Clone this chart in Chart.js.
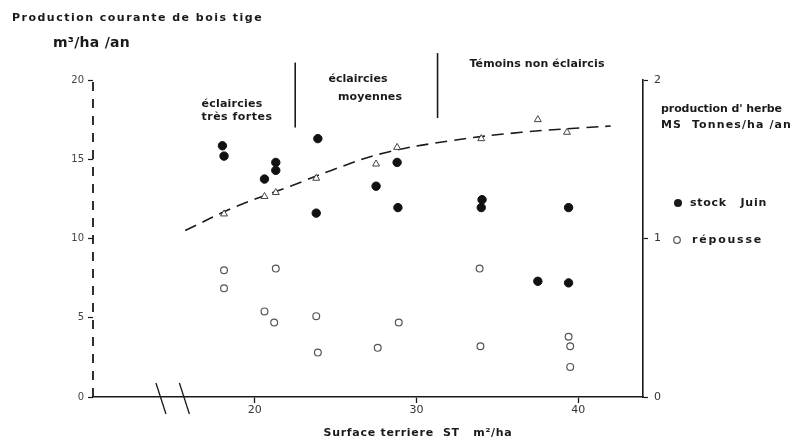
<!DOCTYPE html>
<html><head><meta charset="utf-8">
<script src="https://cdn.jsdelivr.net/npm/chart.js@4/dist/chart.umd.min.js"></script>
<style>html,body{margin:0;padding:0;background:#fff}#wrap{width:793px;height:441px}</style>
</head><body><div id="wrap"><canvas id="c" width="793" height="441"></canvas></div>
<script>
// Production courante de bois tige (m3/ha/an) against surface terrière (m2/ha)
const boisST = [18.1, 20.6, 21.3, 23.8, 27.5, 28.8, 34.0, 37.5, 39.3];
const boisProd = [11.55, 12.65, 12.9, 13.8, 14.7, 15.75, 16.3, 17.5, 16.7];

// Fitted trend of the bois tige production
const trendST = [15.7, 18.8, 22.2, 25.0, 28.0, 32.0, 36.5, 42.0];
const trendProd = [10.5, 12.0, 13.3, 14.4, 15.4, 16.15, 16.7, 17.1];

// Production d'herbe, MS t/ha/an : stock de juin
const stockST = [18.0, 18.1, 20.6, 21.3, 21.3, 23.9, 23.8, 27.5, 28.8, 28.85, 34.05, 34.0, 37.5, 39.4, 39.4];
const stockHerbe = [1.585, 1.52, 1.375, 1.48, 1.43, 1.63, 1.16, 1.33, 1.48, 1.195, 1.245, 1.195, 0.73, 1.195, 0.72];

// Production d'herbe, MS t/ha/an : repousse
const repousseST = [18.1, 18.1, 21.3, 20.6, 21.2, 23.8, 23.9, 27.6, 28.9, 33.9, 33.95, 39.4, 39.5, 39.5];
const repousseHerbe = [0.80, 0.686, 0.81, 0.54, 0.47, 0.51, 0.28, 0.31, 0.47, 0.81, 0.32, 0.38, 0.32, 0.19];

// Axis ticks
const xTicks = [20, 30, 40];
const yTicksStep = 5;
const y2TicksStep = 1;

// Thinning zones separated on the ST axis, and the axis break
const zoneBounds = [22.5, 31.3];
const axisBreak = [14.2, 15.65];

const pts = (xs, ys) => xs.map((x, i) => ({x: x, y: ys[i]}));
const INK = '#1a1a1a';

function fitText(ctx, s, x, y, font, width, align) {
  ctx.font = font;
  ctx.letterSpacing = '0px';
  if (width) {
    const m = ctx.measureText(s).width;
    const ls = (width - m) / s.length;
    ctx.letterSpacing = ls.toFixed(2) + 'px';
  }
  const w = ctx.measureText(s).width;
  let x0 = x;
  if (align === 'center') x0 = x - w / 2;
  ctx.textAlign = 'left';
  ctx.textBaseline = 'middle';
  ctx.fillText(s, x0, y);
  ctx.letterSpacing = '0px';
}

const decor = {
  id: 'decor',
  afterDraw(chart) {
    const ctx = chart.ctx;
    const xs = chart.scales.x, ys = chart.scales.y;
    ctx.save();
    ctx.fillStyle = INK;
    ctx.strokeStyle = INK;

    // dashed left axis
    ctx.lineWidth = 1.8;
    ctx.setLineDash([9, 8]);
    ctx.beginPath();
    ctx.moveTo(ys.right, ys.bottom);
    ctx.lineTo(ys.right, ys.top);
    ctx.stroke();
    ctx.setLineDash([]);

    const B = 'bold 11px "DejaVu Sans"';

    // titles
    fitText(ctx, 'Production courante de bois tige', 12, 18, B, 251);
    fitText(ctx, 'm³/ha /an', 53, 43, 'bold 14px "DejaVu Sans"', 77);

    // zone labels
    fitText(ctx, 'éclaircies', 232, 104, B, 61, 'center');
    fitText(ctx, 'très fortes', 237, 117, B, 71, 'center');
    fitText(ctx, 'éclaircies', 358, 79, B, 59, 'center');
    fitText(ctx, 'moyennes', 370, 97, B, 64, 'center');
    fitText(ctx, 'Témoins non éclaircis', 537, 64, B, 135, 'center');

    // zone separators
    ctx.lineWidth = 1.6;
    const tops = [21.1, 21.7], bots = [17.0, 17.6];
    zoneBounds.forEach((v, i) => {
      const px = xs.getPixelForValue(v);
      ctx.beginPath();
      ctx.moveTo(px, ys.getPixelForValue(tops[i]));
      ctx.lineTo(px, ys.getPixelForValue(bots[i]));
      ctx.stroke();
    });

    // axis break
    const base = xs.top;
    ctx.lineWidth = 1.3;
    axisBreak.forEach(v => {
      const px = xs.getPixelForValue(v);
      ctx.beginPath();
      ctx.moveTo(px - 5, base - 14);
      ctx.lineTo(px + 5, base + 17);
      ctx.stroke();
    });

    // right-hand legend
    fitText(ctx, "production d' herbe", 661, 109, B, 121);
    fitText(ctx, 'MS  Tonnes/ha /an', 661, 125, B, 131);
    ctx.beginPath();
    ctx.arc(678, 203, 4, 0, Math.PI * 2);
    ctx.fill();
    fitText(ctx, 'stock   Juin', 690, 203, B, 77);
    ctx.beginPath();
    ctx.lineWidth = 1.2;
    ctx.strokeStyle = '#555';
    ctx.arc(677, 240, 3.3, 0, Math.PI * 2);
    ctx.stroke();
    fitText(ctx, 'répousse', 692, 240, B, 71);

    // x-axis title
    fitText(ctx, 'Surface terriere  ST   m²/ha', 418, 433, B, 189, 'center');
    ctx.restore();
  }
};

new Chart(document.getElementById('c'), {
  type: 'scatter',
  data: {
    datasets: [
      {
        label: 'tendance',
        type: 'line',
        data: pts(trendST, trendProd),
        yAxisID: 'y',
        borderColor: INK,
        borderWidth: 1.6,
        borderDash: [12, 7],
        pointRadius: 0,
        tension: 0.4,
        fill: false,
        order: 4,
        clip: false
      },
      {
        label: 'bois tige',
        data: pts(boisST, boisProd),
        yAxisID: 'y',
        pointStyle: 'triangle',
        pointRadius: 4,
        backgroundColor: '#fff',
        borderColor: '#444',
        borderWidth: 1,
        order: 1,
        clip: false
      },
      {
        label: 'stock Juin',
        data: pts(stockST, stockHerbe),
        yAxisID: 'y2',
        pointStyle: 'circle',
        pointRadius: 4.2,
        backgroundColor: '#111',
        borderColor: '#111',
        borderWidth: 1,
        order: 2,
        clip: false
      },
      {
        label: 'repousse',
        data: pts(repousseST, repousseHerbe),
        yAxisID: 'y2',
        pointStyle: 'circle',
        pointRadius: 3.4,
        backgroundColor: '#fff',
        borderColor: '#555',
        borderWidth: 1.2,
        order: 3,
        clip: false
      }
    ]
  },
  options: {
    responsive: false,
    animation: false,
    devicePixelRatio: 1,
    layout: {padding: {top: 80, left: 0, right: 0, bottom: 0}},
    plugins: {legend: {display: false}, tooltip: {enabled: false}, title: {display: false}},
    scales: {
      x: {
        type: 'linear', min: 10, max: 44,
        afterBuildTicks: s => { s.ticks = xTicks.map(v => ({value: v})); },
        afterFit: s => { s.height = 44; },
        border: {color: INK, width: 1.6},
        grid: {drawOnChartArea: false, drawTicks: true, tickLength: 6, color: INK, tickWidth: 1.3},
        ticks: {color: '#333', font: {family: '"DejaVu Sans"', size: 11}, padding: 1}
      },
      y: {
        position: 'left', min: 0, max: 20,
        afterFit: s => { s.width = 93; },
        border: {display: false},
        grid: {drawOnChartArea: false, drawTicks: true, tickLength: 5, color: INK, tickWidth: 1.2},
        ticks: {stepSize: yTicksStep, color: '#444', font: {family: '"DejaVu Sans"', size: 10}, padding: 4}
      },
      y2: {
        position: 'right', min: 0, max: 2,
        afterFit: s => { s.width = 150; },
        border: {color: INK, width: 1.6},
        grid: {drawOnChartArea: false, drawTicks: true, tickLength: 5, color: INK, tickWidth: 1.2},
        ticks: {stepSize: y2TicksStep, color: '#333', font: {family: '"DejaVu Sans"', size: 11}, padding: 6}
      }
    }
  },
  plugins: [decor]
});
</script>
</body></html>
